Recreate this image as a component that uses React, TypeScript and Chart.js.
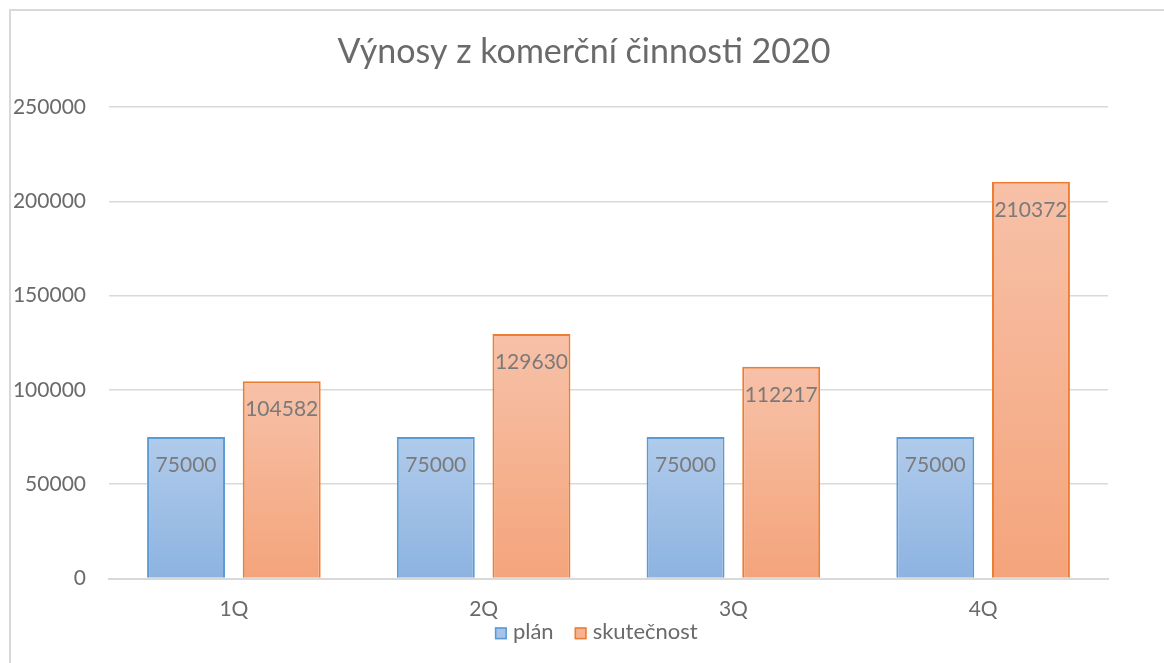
import { useEffect, useRef } from "react";
import { Chart, registerables } from "chart.js";

Chart.register(...registerables);

const categories = ["1Q", "2Q", "3Q", "4Q"];
const planValues = [75000, 75000, 75000, 75000];
const actualValues = [104582, 129630, 112217, 210372];
const seriesNames = ["plán", "skutečnost"];
const titleText = "Výnosy z komerční činnosti 2020";
const yMin = 0;
const yMax = 250000;
const yStep = 50000;

const FONT = "Lato";
const W = 1153;
const H = 654;

function barGradient(topColor: string, bottomColor: string) {
  return (ctx: any) => {
    const chart = ctx.chart;
    if (!chart.chartArea || ctx.type !== "data" || !chart.scales.y) return bottomColor;
    const y = chart.scales.y;
    const v = ctx.raw as number;
    const yTop = y.getPixelForValue(v);
    const yBase = y.getPixelForValue(0);
    if (!isFinite(yTop) || !isFinite(yBase) || yTop === yBase) return bottomColor;
    const g = chart.ctx.createLinearGradient(0, yTop, 0, yBase);
    g.addColorStop(0, topColor);
    g.addColorStop(1, bottomColor);
    return g;
  };
}

const decorPlugin = {
  id: "decor",
  afterDatasetsDraw(chart: any) {
    const ctx = chart.ctx as CanvasRenderingContext2D;
    ctx.save();
    ctx.font = `21px ${FONT}`;
    ctx.fillStyle = "#7a7a7a";
    ctx.textAlign = "center";
    ctx.textBaseline = "alphabetic";
    chart.data.datasets.forEach((ds: any, i: number) => {
      const meta = chart.getDatasetMeta(i);
      meta.data.forEach((el: any, j: number) => {
        ctx.fillText(String(ds.data[j]), el.x, el.y + 35);
      });
    });
    ctx.restore();
  },
  afterDraw(chart: any) {
    const ctx = chart.ctx as CanvasRenderingContext2D;
    ctx.save();
    // title
    ctx.font = `34px ${FONT}`;
    ctx.fillStyle = "#6a6a6a";
    ctx.textAlign = "center";
    ctx.textBaseline = "alphabetic";
    ctx.fillText(titleText, 573, 52);

    // legend
    ctx.font = `22px ${FONT}`;
    const box = 12;
    const gapBoxText = 6;
    const gapItems = 21;
    const swatches = [
      { fill: "#a6c3e8", stroke: "#5b9bd5" },
      { fill: "#f6b393", stroke: "#ed7d31" },
    ];
    const widths = seriesNames.map((n) => ctx.measureText(n).width);
    let total = 0;
    widths.forEach((w, i) => {
      total += box + gapBoxText + w + (i < widths.length - 1 ? gapItems : 0);
    });
    let x = 585.3 - total / 2;
    const baseline = 628.3;
    const boxTop = 616.3;
    seriesNames.forEach((n, i) => {
      ctx.fillStyle = swatches[i].fill;
      ctx.fillRect(x, boxTop, box, box);
      ctx.strokeStyle = swatches[i].stroke;
      ctx.lineWidth = 1.5;
      ctx.strokeRect(x + 0.75, boxTop + 0.75, box - 1.5, box - 1.5);
      x += box + gapBoxText;
      ctx.fillStyle = "#6a6a6a";
      ctx.textAlign = "left";
      ctx.fillText(n, x, baseline);
      x += widths[i] + gapItems;
    });
    ctx.restore();
  },
};

export default function App() {
  const ref = useRef<HTMLCanvasElement | null>(null);

  useEffect(() => {
    if (!ref.current) return;
    const chart = new Chart(ref.current, {
      type: "bar",
      data: {
        labels: categories,
        datasets: [
          {
            label: seriesNames[0],
            data: planValues,
            backgroundColor: barGradient("#b0cbeb", "#8db3e1"),
            borderColor: "#5b9bd5",
            borderWidth: 2,
            categoryPercentage: 0.766,
            barPercentage: 0.815,
          },
          {
            label: seriesNames[1],
            data: actualValues,
            backgroundColor: barGradient("#f7c1a8", "#f4a47b"),
            borderColor: "#ed7d31",
            borderWidth: 2,
            categoryPercentage: 0.766,
            barPercentage: 0.815,
          },
        ],
      },
      options: {
        responsive: false,
        animation: false,
        devicePixelRatio: 1,
        layout: { padding: { left: 0, right: 56, top: 96, bottom: 41.5 } },
        plugins: {
          legend: { display: false },
          title: { display: false },
          tooltip: { enabled: false },
        },
        scales: {
          x: {
            grid: { display: false, drawTicks: false },
            border: { display: true, color: "#d9d9d9", width: 2 },
            ticks: { font: { family: FONT, size: 21 }, color: "#6a6a6a", padding: 18 },
            afterFit: (s: any) => {
              s.height = 45;
            },
          },
          y: {
            min: yMin,
            max: yMax,
            grid: { color: "#d9d9d9", lineWidth: 1.5, drawTicks: false },
            border: { display: false },
            ticks: {
              stepSize: yStep,
              padding: 23,
              font: { family: FONT, size: 21 },
              color: "#6a6a6a",
              callback: (v: any) => String(v),
            },
            afterFit: (s: any) => {
              s.width = 98;
            },
          },
        },
      },
      plugins: [decorPlugin],
    });
    return () => chart.destroy();
  }, []);

  return (
    <div
      style={{
        position: "fixed",
        left: 9,
        top: 9,
        width: W,
        height: H,
        borderLeft: "2px solid #d9d9d9",
        borderTop: "2px solid #d9d9d9",
      }}
    >
      <canvas ref={ref} width={W} height={H} style={{ display: "block", width: W, height: H }} />
    </div>
  );
}
